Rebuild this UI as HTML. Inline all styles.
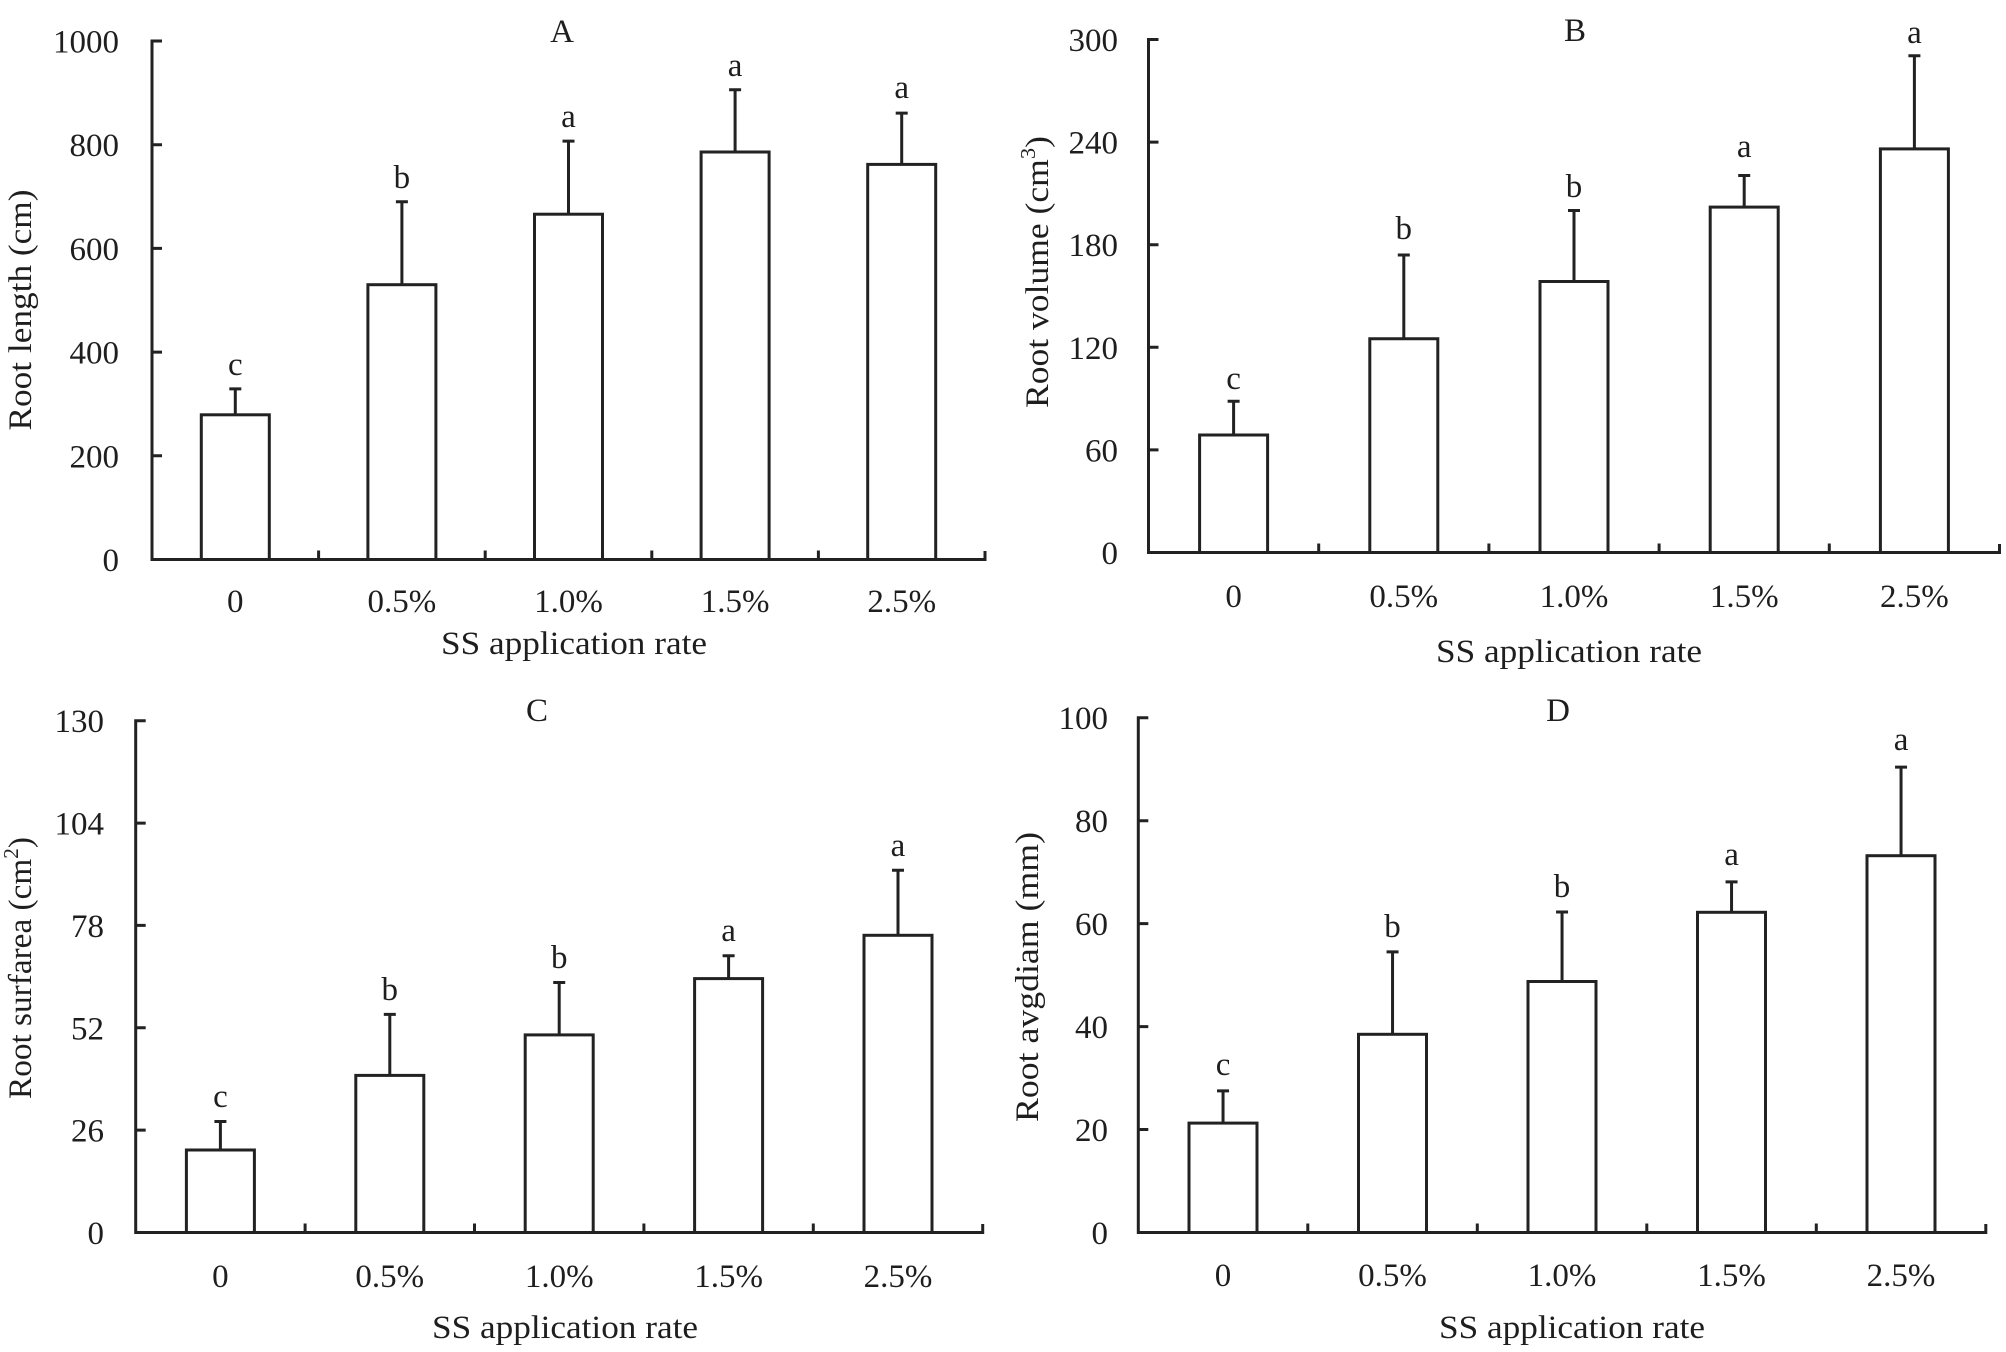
<!DOCTYPE html>
<html>
<head>
<meta charset="utf-8">
<style>
html,body{margin:0;padding:0;background:#fff;}
svg{display:block;}
text{font-family:"Liberation Serif","Times New Roman",serif;fill:#1e1e1e;font-size:33px;}
.ax{fill:none;stroke:#222;stroke-width:3;stroke-linejoin:miter;}
.bar{fill:#fff;stroke:#222;stroke-width:3;}
.err{fill:none;stroke:#222;stroke-width:3;}
.yl{text-anchor:end;}
.c{text-anchor:middle;}
</style>
</head>
<body>
<svg width="2006" height="1352" viewBox="0 0 2006 1352" xmlns="http://www.w3.org/2000/svg">
<rect x="0" y="0" width="2006" height="1352" fill="#fff"/>

<!-- ================= Panel A ================= -->
<g>
<rect class="bar" x="201.3" y="414.8" width="68" height="144.7"/>
<rect class="bar" x="367.9" y="284.7" width="68" height="274.8"/>
<rect class="bar" x="534.5" y="214.2" width="68" height="345.3"/>
<rect class="bar" x="701.1" y="152.0" width="68" height="407.5"/>
<rect class="bar" x="867.7" y="164.4" width="68" height="395.1"/>
<path class="err" d="M235.3,414.8V388.9M229.3,388.9h12 M401.9,284.7V201.7M395.9,201.7h12 M568.5,214.2V141.1M562.5,141.1h12 M735.1,152V89.7M729.1,89.7h12 M901.7,164.4V113.1M895.7,113.1h12"/>
<path class="ax" d="M162,41H152V559.5H985V551 M152,144.7h10 M152,248.4h10 M152,352.1h10 M152,455.8h10 M318.6,559.5v-9 M485.2,559.5v-9 M651.8,559.5v-9 M818.4,559.5v-9"/>
<text class="yl" x="119" y="52.5">1000</text>
<text class="yl" x="119" y="156.2">800</text>
<text class="yl" x="119" y="259.9">600</text>
<text class="yl" x="119" y="363.6">400</text>
<text class="yl" x="119" y="467.3">200</text>
<text class="yl" x="119" y="571">0</text>
<text class="c" x="235.3" y="612">0</text>
<text class="c" x="401.9" y="612">0.5%</text>
<text class="c" x="568.5" y="612">1.0%</text>
<text class="c" x="735.1" y="612">1.5%</text>
<text class="c" x="901.7" y="612">2.5%</text>
<text class="c" x="235.3" y="375">c</text>
<text class="c" x="401.9" y="188">b</text>
<text class="c" x="568.5" y="127">a</text>
<text class="c" x="735.1" y="76">a</text>
<text class="c" x="901.7" y="98">a</text>
<text class="c" x="562" y="42">A</text>
<text class="c" x="574" y="654" textLength="266" lengthAdjust="spacingAndGlyphs">SS application rate</text>
<text class="c" transform="translate(31,310) rotate(-90)" textLength="241" lengthAdjust="spacingAndGlyphs">Root length (cm)</text>
</g>

<!-- ================= Panel B ================= -->
<g>
<rect class="bar" x="1199.6" y="435.0" width="68" height="117.5"/>
<rect class="bar" x="1369.8" y="338.75" width="68" height="213.75"/>
<rect class="bar" x="1540" y="281.5" width="68" height="271"/>
<rect class="bar" x="1710.2" y="207.1" width="68" height="345.4"/>
<rect class="bar" x="1880.4" y="148.9" width="68" height="403.6"/>
<path class="err" d="M1233.6,435V401.2M1227.6,401.2h12 M1403.8,338.75V255M1397.8,255h12 M1574,281.5V210.5M1568,210.5h12 M1744.2,207.1V175.5M1738.2,175.5h12 M1914.4,148.9V55.7M1908.4,55.7h12"/>
<path class="ax" d="M1158.5,39.5H1148.5V552.5H1999.5V544 M1148.5,142.1h10 M1148.5,244.7h10 M1148.5,347.3h10 M1148.5,449.9h10 M1318.7,552.5v-9 M1488.9,552.5v-9 M1659.1,552.5v-9 M1829.3,552.5v-9"/>
<text class="yl" x="1118" y="51">300</text>
<text class="yl" x="1118" y="153.6">240</text>
<text class="yl" x="1118" y="256.2">180</text>
<text class="yl" x="1118" y="358.8">120</text>
<text class="yl" x="1118" y="461.4">60</text>
<text class="yl" x="1118" y="564">0</text>
<text class="c" x="1233.6" y="607">0</text>
<text class="c" x="1403.8" y="607">0.5%</text>
<text class="c" x="1574" y="607">1.0%</text>
<text class="c" x="1744.2" y="607">1.5%</text>
<text class="c" x="1914.4" y="607">2.5%</text>
<text class="c" x="1233.6" y="389">c</text>
<text class="c" x="1403.8" y="239">b</text>
<text class="c" x="1574" y="197">b</text>
<text class="c" x="1744.2" y="157">a</text>
<text class="c" x="1914.4" y="43">a</text>
<text class="c" x="1575" y="41">B</text>
<text class="c" x="1569" y="662" textLength="266" lengthAdjust="spacingAndGlyphs">SS application rate</text>
<text class="c" transform="translate(1048,272) rotate(-90)" textLength="272" lengthAdjust="spacingAndGlyphs">Root volume (cm<tspan font-size="21" dy="-13">3</tspan><tspan dy="13">)</tspan></text>
</g>

<!-- ================= Panel C ================= -->
<g>
<rect class="bar" x="186.4" y="1150" width="68" height="82.5"/>
<rect class="bar" x="355.8" y="1075.4" width="68" height="157.1"/>
<rect class="bar" x="525.2" y="1034.9" width="68" height="197.6"/>
<rect class="bar" x="694.6" y="978.6" width="68" height="253.9"/>
<rect class="bar" x="864.0" y="935.3" width="68" height="297.2"/>
<path class="err" d="M220.4,1150V1121.5M214.4,1121.5h12 M389.8,1075.4V1014.4M383.8,1014.4h12 M559.2,1034.9V982.5M553.2,982.5h12 M728.6,978.6V955.7M722.6,955.7h12 M898,935.3V870.3M892,870.3h12"/>
<path class="ax" d="M145.7,720.7H135.7V1232.5H982.7V1224 M135.7,823.1h10 M135.7,925.4h10 M135.7,1027.8h10 M135.7,1130.1h10 M305.1,1232.5v-9 M474.5,1232.5v-9 M643.9,1232.5v-9 M813.3,1232.5v-9"/>
<text class="yl" x="104" y="732.2">130</text>
<text class="yl" x="104" y="834.6">104</text>
<text class="yl" x="104" y="936.9">78</text>
<text class="yl" x="104" y="1039.3">52</text>
<text class="yl" x="104" y="1141.6">26</text>
<text class="yl" x="104" y="1244">0</text>
<text class="c" x="220.4" y="1287">0</text>
<text class="c" x="389.8" y="1287">0.5%</text>
<text class="c" x="559.2" y="1287">1.0%</text>
<text class="c" x="728.6" y="1287">1.5%</text>
<text class="c" x="898" y="1287">2.5%</text>
<text class="c" x="220.4" y="1107">c</text>
<text class="c" x="389.8" y="1000">b</text>
<text class="c" x="559.2" y="968">b</text>
<text class="c" x="728.6" y="941">a</text>
<text class="c" x="898" y="856">a</text>
<text class="c" x="537" y="721">C</text>
<text class="c" x="565" y="1338" textLength="266" lengthAdjust="spacingAndGlyphs">SS application rate</text>
<text class="c" transform="translate(31,968) rotate(-90)" textLength="262" lengthAdjust="spacingAndGlyphs">Root surfarea (cm<tspan font-size="21" dy="-13">2</tspan><tspan dy="13">)</tspan></text>
</g>

<!-- ================= Panel D ================= -->
<g>
<rect class="bar" x="1189" y="1123.1" width="68" height="109.4"/>
<rect class="bar" x="1358.5" y="1034.3" width="68" height="198.2"/>
<rect class="bar" x="1528" y="981.5" width="68" height="251"/>
<rect class="bar" x="1697.5" y="912.3" width="68" height="320.2"/>
<rect class="bar" x="1867" y="855.7" width="68" height="376.8"/>
<path class="err" d="M1223.05,1123.1V1090.9M1217.05,1090.9h12 M1392.55,1034.3V951.9M1386.55,951.9h12 M1562.05,981.5V912M1556.05,912h12 M1731.55,912.3V881.9M1725.55,881.9h12 M1901.05,855.7V767.1M1895.05,767.1h12"/>
<path class="ax" d="M1148.3,717.7H1138.3V1232.5H1985.8V1224 M1138.3,820.7h10 M1138.3,923.6h10 M1138.3,1026.6h10 M1138.3,1129.5h10 M1307.8,1232.5v-9 M1477.3,1232.5v-9 M1646.8,1232.5v-9 M1816.3,1232.5v-9"/>
<text class="yl" x="1108" y="729.2">100</text>
<text class="yl" x="1108" y="832.2">80</text>
<text class="yl" x="1108" y="935.1">60</text>
<text class="yl" x="1108" y="1038.1">40</text>
<text class="yl" x="1108" y="1141">20</text>
<text class="yl" x="1108" y="1244">0</text>
<text class="c" x="1223.05" y="1286">0</text>
<text class="c" x="1392.55" y="1286">0.5%</text>
<text class="c" x="1562.05" y="1286">1.0%</text>
<text class="c" x="1731.55" y="1286">1.5%</text>
<text class="c" x="1901.05" y="1286">2.5%</text>
<text class="c" x="1223.05" y="1075">c</text>
<text class="c" x="1392.55" y="937">b</text>
<text class="c" x="1562.05" y="897">b</text>
<text class="c" x="1731.55" y="865">a</text>
<text class="c" x="1901.05" y="750">a</text>
<text class="c" x="1558" y="721">D</text>
<text class="c" x="1572" y="1338" textLength="266" lengthAdjust="spacingAndGlyphs">SS application rate</text>
<text class="c" transform="translate(1038,977) rotate(-90)" textLength="290" lengthAdjust="spacingAndGlyphs">Root avgdiam (mm)</text>
</g>
</svg>
</body>
</html>
